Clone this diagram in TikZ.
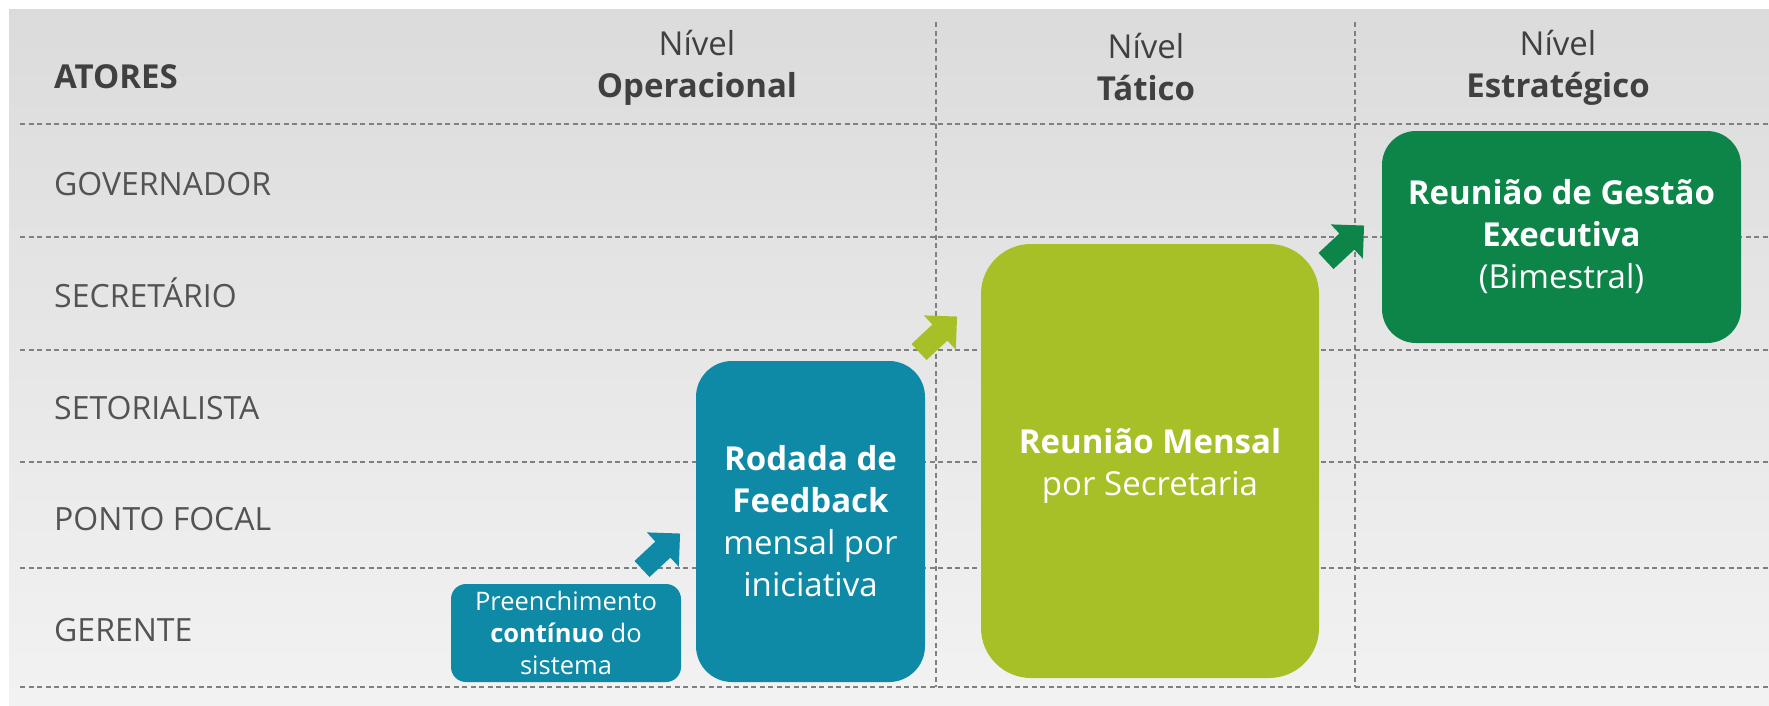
\documentclass[tikz,border=0pt]{standalone}
\usepackage{fontspec}
\setmainfont{Open Sans}
\usetikzlibrary{positioning}
\definecolor{tealbox}{RGB}{14,137,166}
\definecolor{limebox}{RGB}{168,192,39}
\definecolor{greenbox}{RGB}{14,133,72}
\definecolor{gridline}{RGB}{128,128,128}
\definecolor{headtext}{RGB}{64,64,64}

\begin{document}
\begin{tikzpicture}[x=1pt,y=-1pt,
	grade/.style={gridline, line width=1.4pt, dash pattern=on 5pt off 3.5pt},
	ator/.style={anchor=west, inner sep=0pt, text height=23.5pt, text depth=0pt,
		text=headtext!90, font=\fontsize{32}{40}\selectfont},
	nivel/.style={align=center, inner sep=0pt, text=headtext, font=\fontsize{33}{42}\selectfont},
	caixa/.style={rounded corners=#1, text=white, align=center, inner sep=0pt,
		font=\fontsize{33}{42}\selectfont},
	seta/.pic={ % seta larga em bloco
		\fill[pic actions] (0,-11) -- (28.5,-11) -- (28.5,-23.5) -- (52,0)
			-- (28.5,23.5) -- (28.5,11) -- (0,11) -- cycle;
	}
]
	\useasboundingbox (0,0) rectangle (1769,705);
	%% fundo
	\shade[top color=black!14, bottom color=black!5] (9,9) rectangle (1769,705);
	%% linhas da grade
	\foreach \y in {124,237,350,462,568,687}
		\draw[grade] (20,\y) -- (1769,\y);
	\foreach \x in {936,1355}
		\draw[grade] (\x,22) -- (\x,687);
	%% cabecalho
	\node[ator, text=headtext, font=\bfseries\fontsize{33}{40}\selectfont] (atores) at (54,77) {ATORES};
	\node[nivel] (operacional) at (697,67.5) {Nível\\\textbf{Operacional}};
	\node[nivel] (tatico) at (1146,67.5) {Nível\\\textbf{Tático}};
	\node[nivel] (estrategico) at (1558,67.5) {Nível\\\textbf{Estratégico}};
	%% atores
	\node[ator] (governador) at (54,184) {GOVERNADOR};
	\node[ator] (secretario) at (54,296) {SECRETÁRIO};
	\node[ator] (setorialista) at (54,408) {SETORIALISTA};
	\node[ator] (pontofocal) at (54,519) {PONTO FOCAL};
	\node[ator] (gerente) at (54,630) {GERENTE};
	%% caixas
	\node[caixa=15pt, fill=tealbox, minimum width=230pt, minimum height=98pt,
		font=\fontsize{25.5}{32}\selectfont] (preenchimento) at (566,633)
		{Preenchimento\\\textbf{contínuo} do\\sistema};
	\node[caixa=36pt, fill=tealbox, minimum width=229pt, minimum height=321pt] (rodada) at (810.5,521.5)
		{\textbf{Rodada de}\\\textbf{Feedback}\\mensal por\\iniciativa};
	\node[caixa=50pt, fill=limebox, minimum width=338pt, minimum height=434pt] (mensal) at (1150,461)
		{\rule{0pt}{34pt}\textbf{Reunião Mensal}\\por Secretaria};
	\node[caixa=34pt, fill=greenbox, minimum width=359pt, minimum height=212pt] (gestao) at (1561.5,237)
		{\textbf{Reunião de Gestão}\\\textbf{Executiva}\\(Bimestral)};
	%% setas
	\pic[fill=tealbox, rotate=43] at (642,569) {seta};
	\pic[fill=limebox, rotate=43] at (919,352) {seta};
	\pic[fill=greenbox, rotate=43] at (1326,261) {seta};
\end{tikzpicture}
\end{document}
